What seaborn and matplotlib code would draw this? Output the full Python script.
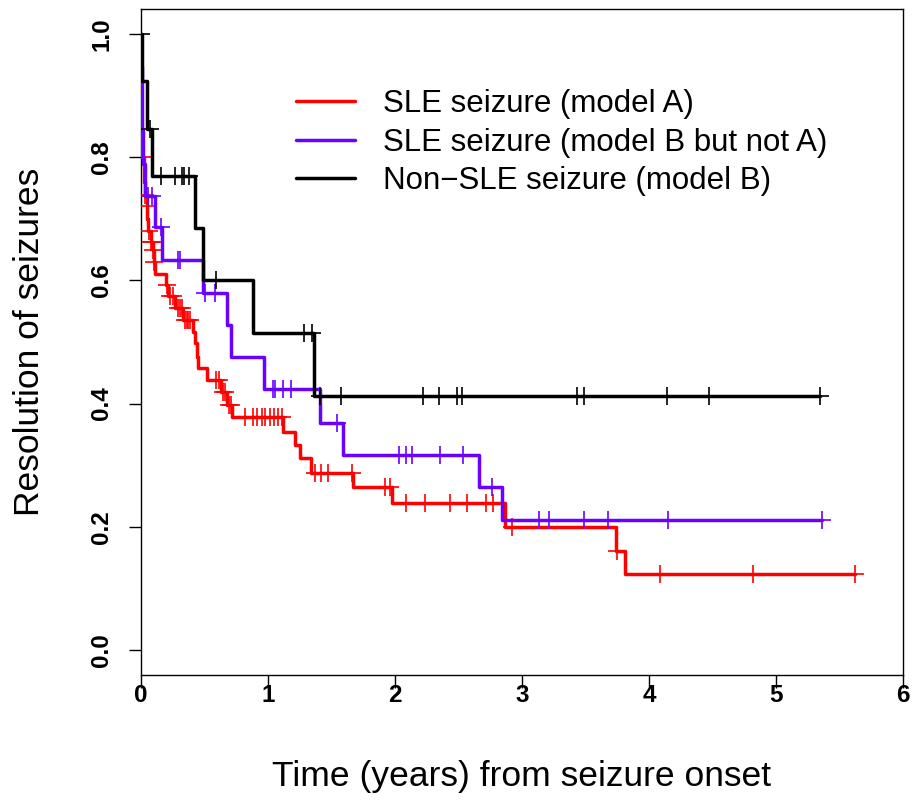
import numpy as np
import pandas as pd
import matplotlib
matplotlib.use("Agg")
import matplotlib.pyplot as plt
from matplotlib.lines import Line2D
import seaborn as sns

# ---------------- data ----------------
groups = ["SLE seizure (model A)",
          "SLE seizure (model B but not A)",
          "Non\u2212SLE seizure (model B)"]
colors = ["#FF0000", "#6A00FF", "#000000"]

red_event_times = [0.003, 0.02, 0.025, 0.03, 0.045, 0.05, 0.055, 0.075, 0.095, 0.10,
                   0.11, 0.20, 0.215, 0.27, 0.33, 0.41, 0.425, 0.44, 0.45, 0.52,
                   0.63, 0.675, 0.72, 1.12, 1.21, 1.25, 1.34, 1.67, 1.98, 2.87,
                   3.74, 3.81]
red_levels = [0.80, 0.78, 0.76, 0.739, 0.72, 0.70, 0.68, 0.663, 0.649, 0.630,
              0.611, 0.593, 0.574, 0.555, 0.536, 0.517, 0.498, 0.476, 0.457, 0.438,
              0.419, 0.398, 0.379, 0.354, 0.333, 0.311, 0.288, 0.264, 0.239, 0.199,
              0.160, 0.123]
red_censor = [0.015, 0.035, 0.048, 0.06, 0.08, 0.09, 0.098, 0.105, 0.207, 0.228,
              0.254, 0.29, 0.305, 0.32, 0.345, 0.36, 0.372, 0.386, 0.59, 0.615,
              0.645, 0.66, 0.69, 0.705, 0.82, 0.885, 0.91, 0.95, 0.976, 1.016,
              1.047, 1.081, 1.108, 1.37, 1.42, 1.475, 1.66, 1.92, 1.96, 2.09,
              2.24, 2.43, 2.57, 2.72, 2.77, 2.92, 3.75, 4.09, 4.82, 5.62]

blue_event_times = [0.002, 0.004, 0.006, 0.015, 0.03, 0.11, 0.168, 0.49, 0.675, 0.706,
                    0.968, 1.41, 1.588, 2.66, 2.84]
blue_levels = [0.947, 0.895, 0.842, 0.789, 0.737, 0.687, 0.633, 0.58, 0.528, 0.475,
               0.423, 0.369, 0.317, 0.265, 0.211]
blue_censor = [0.058, 0.084, 0.155, 0.29, 0.31, 0.504, 0.583, 1.04, 1.058, 1.115,
               1.18, 1.545, 2.03, 2.087, 2.13, 2.354, 2.538, 2.766, 3.136, 3.21,
               3.49, 3.68, 4.15, 5.36]

black_event_times = [0.005, 0.05, 0.084, 0.425, 0.49, 0.885, 1.36]
black_levels = [0.923, 0.846, 0.769, 0.685, 0.60, 0.515, 0.412]
black_censor = [0.003, 0.07, 0.16, 0.27, 0.325, 0.34, 0.38, 0.59, 1.28, 1.35,
                1.41, 1.575, 2.22, 2.35, 2.49, 2.525, 3.43, 3.49, 4.14, 4.47, 5.35]

x_ticks = [0, 1, 2, 3, 4, 5, 6]
y_ticks = [0.0, 0.2, 0.4, 0.6, 0.8, 1.0]
y_tick_labels = ["0.0", "0.2", "0.4", "0.6", "0.8", "1.0"]

series = [(red_event_times, red_levels, red_censor),
          (blue_event_times, blue_levels, blue_censor),
          (black_event_times, black_levels, black_censor)]

# ---------------- build tables ----------------
curve_rows, cens_rows = [], []
for g, (et, lv, cs) in zip(groups, series):
    end = max(max(cs), max(et))
    xs = [0.0] + list(et) + [end]
    ys = [1.0] + list(lv) + [lv[-1]]
    for x, y in zip(xs, ys):
        curve_rows.append((g, x, y))
    et_arr = np.array([0.0] + list(et))
    lv_arr = np.array([1.0] + list(lv))
    for c in cs:
        idx = np.searchsorted(et_arr, c, side="right") - 1
        cens_rows.append((g, c, lv_arr[idx]))
curves = pd.DataFrame(curve_rows, columns=["group", "time", "surv"])
cens = pd.DataFrame(cens_rows, columns=["group", "time", "surv"])

# ---------------- plot ----------------
sns.set_theme(style="white")
plt.rcParams["font.family"] = ["Liberation Sans", "DejaVu Sans"]
plt.rcParams["text.color"] = "black"
plt.rcParams["axes.labelcolor"] = "black"
plt.rcParams["xtick.color"] = "black"
plt.rcParams["ytick.color"] = "black"

fig = plt.figure(figsize=(9.15, 8.05), dpi=100)
ax = fig.add_axes([141 / 915, 1 - 674.6 / 805, 762 / 915, 665.2 / 805])

for i, (g, col) in enumerate(zip(groups, colors)):
    sns.lineplot(data=curves[curves.group == g], x="time", y="surv", color=col,
                 estimator=None, sort=False, drawstyle="steps-post", lw=2.5,
                 ax=ax, legend=False, zorder=3 + 2 * i)
    sns.scatterplot(data=cens[cens.group == g], x="time", y="surv", color=col,
                    marker="+", s=150, linewidth=1.2, ax=ax, legend=False,
                    zorder=4 + 2 * i)

ax.set_xlim(0, 6)
ax.set_ylim(-0.04, 1.04)
ax.set_xticks(x_ticks)
ax.set_xticklabels([str(t) for t in x_ticks], fontsize=17.5, fontweight="bold")
ax.set_yticks(y_ticks)
ax.set_yticklabels(y_tick_labels, fontsize=17.5, fontweight="bold", rotation=90,
                   va="center")
ax.tick_params(axis="both", direction="out", length=9, width=1.0, color="black",
               left=True, bottom=True)
ax.tick_params(axis="x", pad=-2)
ax.tick_params(axis="y", pad=11)
for sp in ax.spines.values():
    sp.set_color("black")
    sp.set_linewidth(1.0)
ax.set_xlabel("Time (years) from seizure onset", fontsize=25.5, labelpad=38)
ax.set_ylabel("Resolution of seizures", fontsize=25.5, labelpad=32)

handles = [Line2D([0], [0], color=c, lw=2.5) for c in colors]
ax.legend(handles, groups, loc="upper left", bbox_to_anchor=(0.203, 0.880),
          frameon=False, fontsize=22.5, handlelength=1.9, handletextpad=0.9,
          labelspacing=0.27, borderpad=0, borderaxespad=0)

fig.savefig("out.png", dpi=100)
